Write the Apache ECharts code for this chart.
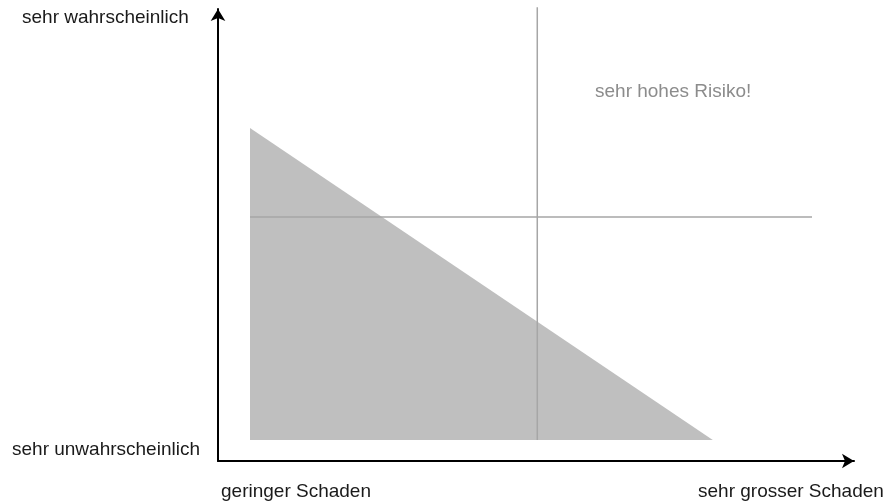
<!DOCTYPE html>
<html>
<head>
<meta charset="utf-8">
<script src="https://cdn.jsdelivr.net/npm/echarts@6/dist/echarts.min.js"></script>
<style>
html,body{margin:0;padding:0;background:#fff;}
#chart{width:893px;height:503px;}
</style>
</head>
<body>
<div id="chart"></div>
<script>
// Axis end labels
var yLabels = ['sehr wahrscheinlich', 'sehr unwahrscheinlich'];
var xLabels = ['geringer Schaden', 'sehr grosser Schaden'];
var zoneLabel = 'sehr hohes Risiko!';

// Shapes in data units (0..100 on both axes)
var triX = [5.03, 5.03, 77.8];
var triY = [73.7, 4.65, 4.65];
var vLineX = [50.2, 50.2];
var vLineY = [4.65, 100.4];
var hLineX = [5.03, 93.4];
var hLineY = [54.0, 54.0];

function pairs(xs, ys) { return xs.map(function (x, i) { return [x, ys[i]]; }); }

var FONT = '"Liberation Sans", Arial, sans-serif';
var chart = echarts.init(document.getElementById('chart'), null, {renderer: 'canvas'});

function label(text, x, y, color) {
  return {type: 'text', x: x, y: y, silent: true,
    style: {text: text, font: '19px ' + FONT, fill: color, verticalAlign: 'top', align: 'left'}};
}

var option = {
  animation: false,
  backgroundColor: '#ffffff',
  grid: {left: 218, right: 39, top: 9, bottom: 42, containLabel: false},
  xAxis: {
    type: 'value', min: 0, max: 100,
    axisLine: {show: true, onZero: false, symbol: ['none', 'arrow'], symbolSize: [11, 12],
      lineStyle: {color: '#000', width: 2}},
    axisTick: {show: false}, axisLabel: {show: false}, splitLine: {show: false}
  },
  yAxis: {
    type: 'value', min: 0, max: 100,
    axisLine: {show: true, onZero: false, symbol: ['none', 'arrow'], symbolSize: [11, 12],
      lineStyle: {color: '#000', width: 2}},
    axisTick: {show: false}, axisLabel: {show: false}, splitLine: {show: false}
  },
  series: [
    {
      type: 'custom',
      data: [[0]],
      z: 1,
      renderItem: function (params, api) {
        var pts = triX.map(function (x, i) { return api.coord([x, triY[i]]); });
        return {type: 'polygon', shape: {points: pts}, style: {fill: '#bfbfbf'}};
      }
    },
    {
      type: 'line', data: pairs(vLineX, vLineY), symbol: 'none', clip: false, z: 3,
      lineStyle: {color: '#a6a6a6', width: 1.5}
    },
    {
      type: 'line', data: pairs(hLineX, hLineY), symbol: 'none', clip: false, z: 3,
      lineStyle: {color: '#a6a6a6', width: 1.5}
    }
  ],
  graphic: [
    label(yLabels[0], 22, 8, '#1a1a1a'),
    label(yLabels[1], 12, 440.5, '#1a1a1a'),
    label(xLabels[0], 221, 482, '#1a1a1a'),
    label(xLabels[1], 698, 482, '#1a1a1a'),
    label(zoneLabel, 595, 82, '#8c8c8c')
  ]
};
chart.setOption(option);
</script>
</body>
</html>
